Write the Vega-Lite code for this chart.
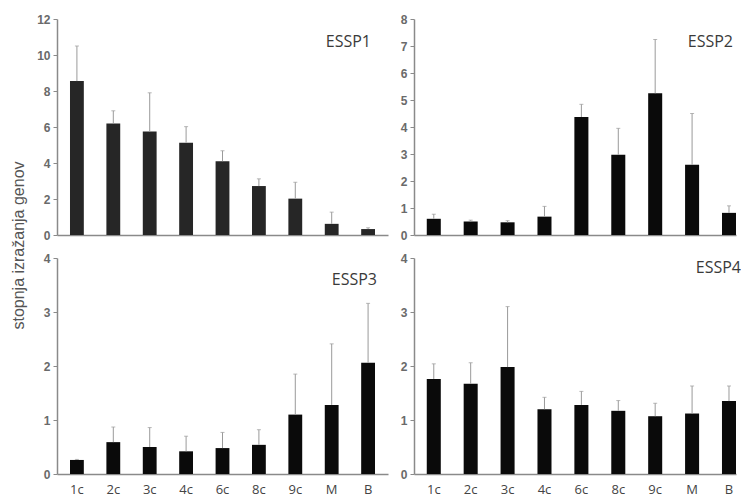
{
  "$schema": "https://vega.github.io/schema/vega-lite/v6.json",
  "padding": {"left": 10, "top": 13, "right": 0, "bottom": 0},
  "background": "white",
  "datasets": {
    "d": [
      {"gene": "ESSP1", "cond": "1c", "value": 8.55, "err": 10.5},
      {"gene": "ESSP1", "cond": "2c", "value": 6.2, "err": 6.9},
      {"gene": "ESSP1", "cond": "3c", "value": 5.75, "err": 7.9},
      {"gene": "ESSP1", "cond": "4c", "value": 5.13, "err": 6.02},
      {"gene": "ESSP1", "cond": "6c", "value": 4.1, "err": 4.68},
      {"gene": "ESSP1", "cond": "8c", "value": 2.72, "err": 3.12},
      {"gene": "ESSP1", "cond": "9c", "value": 2.02, "err": 2.93},
      {"gene": "ESSP1", "cond": "M", "value": 0.62, "err": 1.27},
      {"gene": "ESSP1", "cond": "B", "value": 0.33, "err": 0.4},
      {"gene": "ESSP2", "cond": "1c", "value": 0.6, "err": 0.77},
      {"gene": "ESSP2", "cond": "2c", "value": 0.5, "err": 0.55},
      {"gene": "ESSP2", "cond": "3c", "value": 0.47, "err": 0.53},
      {"gene": "ESSP2", "cond": "4c", "value": 0.68, "err": 1.06},
      {"gene": "ESSP2", "cond": "6c", "value": 4.37, "err": 4.84},
      {"gene": "ESSP2", "cond": "8c", "value": 2.97, "err": 3.95},
      {"gene": "ESSP2", "cond": "9c", "value": 5.25, "err": 7.24},
      {"gene": "ESSP2", "cond": "M", "value": 2.6, "err": 4.5},
      {"gene": "ESSP2", "cond": "B", "value": 0.82, "err": 1.08},
      {"gene": "ESSP3", "cond": "1c", "value": 0.26, "err": 0.27},
      {"gene": "ESSP3", "cond": "2c", "value": 0.59, "err": 0.87},
      {"gene": "ESSP3", "cond": "3c", "value": 0.5, "err": 0.86},
      {"gene": "ESSP3", "cond": "4c", "value": 0.42, "err": 0.7},
      {"gene": "ESSP3", "cond": "6c", "value": 0.48, "err": 0.77},
      {"gene": "ESSP3", "cond": "8c", "value": 0.54, "err": 0.82},
      {"gene": "ESSP3", "cond": "9c", "value": 1.1, "err": 1.85},
      {"gene": "ESSP3", "cond": "M", "value": 1.28, "err": 2.41},
      {"gene": "ESSP3", "cond": "B", "value": 2.06, "err": 3.16},
      {"gene": "ESSP4", "cond": "1c", "value": 1.76, "err": 2.04},
      {"gene": "ESSP4", "cond": "2c", "value": 1.67, "err": 2.06},
      {"gene": "ESSP4", "cond": "3c", "value": 1.98, "err": 3.1},
      {"gene": "ESSP4", "cond": "4c", "value": 1.2, "err": 1.42},
      {"gene": "ESSP4", "cond": "6c", "value": 1.28, "err": 1.53},
      {"gene": "ESSP4", "cond": "8c", "value": 1.17, "err": 1.36},
      {"gene": "ESSP4", "cond": "9c", "value": 1.07, "err": 1.31},
      {"gene": "ESSP4", "cond": "M", "value": 1.12, "err": 1.63},
      {"gene": "ESSP4", "cond": "B", "value": 1.35, "err": 1.63}
    ]
  },
  "columns": 2,
  "bounds": "flush",
  "align": "each",
  "spacing": {"row": 23, "column": 26},
  "concat": [
    {
      "width": 331, "height": 216,
      "data": {"name": "d"},
      "transform": [{"filter": "datum.gene === 'ESSP1'"}],
      "title": {"text": "ESSP1", "anchor": "end", "offset": -37, "dx": -17, "frame": "group"},
      "encoding": {
        "x": {"field": "cond", "type": "nominal", "sort": ["1c","2c","3c","4c","6c","8c","9c","M","B"],
              "scale": {"paddingInner": 0.62, "paddingOuter": 0.357},
              "axis": {"labels": false, "ticks": false, "title": null}},
        "y": {"field": "value", "type": "quantitative", "scale": {"domain": [0, 12]},
              "axis": {"values": [0,2,4,6,8,10,12], "format": "d", "labelOverlap": false,
                       "title": "stopnja izražanja genov", "titleY": 226, "titleAlign": "center", "titlePadding": 10}}
      },
      "layer": [
        {"mark": {"type": "bar", "color": "#262626"}},
        {"mark": {"type": "rule", "color": "#9a9a9a", "strokeWidth": 1},
         "encoding": {"y2": {"field": "err"}}},
        {"mark": {"type": "tick", "color": "#9a9a9a", "size": 4, "thickness": 1},
         "encoding": {"y": {"field": "err", "type": "quantitative", "scale": {"domain": [0, 12]},
              "axis": {"values": [0,2,4,6,8,10,12], "format": "d", "labelOverlap": false,
                       "title": "stopnja izražanja genov", "titleY": 226, "titleAlign": "center", "titlePadding": 10}}}}
      ]
    },
    {
      "width": 322, "height": 216,
      "data": {"name": "d"},
      "transform": [{"filter": "datum.gene === 'ESSP2'"}],
      "title": {"text": "ESSP2", "anchor": "end", "offset": -37, "dx": -3, "frame": "group"},
      "encoding": {
        "x": {"field": "cond", "type": "nominal", "sort": ["1c","2c","3c","4c","6c","8c","9c","M","B"],
              "scale": {"paddingInner": 0.62, "paddingOuter": 0.173, "align": 1},
              "axis": {"labels": false, "ticks": false, "title": null}},
        "y": {"field": "value", "type": "quantitative", "scale": {"domain": [0, 8]},
              "axis": {"values": [0,1,2,3,4,5,6,7,8], "format": "d", "labelOverlap": false, "title": null}}
      },
      "layer": [
        {"mark": {"type": "bar", "color": "#0a0a0a"}},
        {"mark": {"type": "rule", "color": "#9a9a9a", "strokeWidth": 1},
         "encoding": {"y2": {"field": "err"}}},
        {"mark": {"type": "tick", "color": "#9a9a9a", "size": 4, "thickness": 1},
         "encoding": {"y": {"field": "err", "type": "quantitative", "scale": {"domain": [0, 8]},
              "axis": {"values": [0,1,2,3,4,5,6,7,8], "format": "d", "labelOverlap": false, "title": null}}}}
      ]
    },
    {
      "width": 331, "height": 216,
      "data": {"name": "d"},
      "transform": [{"filter": "datum.gene === 'ESSP3'"}],
      "title": {"text": "ESSP3", "anchor": "end", "offset": -36, "dx": -11, "frame": "group"},
      "encoding": {
        "x": {"field": "cond", "type": "nominal", "sort": ["1c","2c","3c","4c","6c","8c","9c","M","B"],
              "scale": {"paddingInner": 0.62, "paddingOuter": 0.357},
              "axis": {"labels": true, "ticks": false, "title": null, "labelAngle": 0}},
        "y": {"field": "value", "type": "quantitative", "scale": {"domain": [0, 4]},
              "axis": {"values": [0,1,2,3,4], "format": "d", "labelOverlap": false, "title": null}}
      },
      "layer": [
        {"mark": {"type": "bar", "color": "#0a0a0a"}},
        {"mark": {"type": "rule", "color": "#9a9a9a", "strokeWidth": 1},
         "encoding": {"y2": {"field": "err"}}},
        {"mark": {"type": "tick", "color": "#9a9a9a", "size": 4, "thickness": 1},
         "encoding": {"y": {"field": "err", "type": "quantitative", "scale": {"domain": [0, 4]},
              "axis": {"values": [0,1,2,3,4], "format": "d", "labelOverlap": false, "title": null}}}}
      ]
    },
    {
      "width": 322, "height": 216,
      "data": {"name": "d"},
      "transform": [{"filter": "datum.gene === 'ESSP4'"}],
      "title": {"text": "ESSP4", "anchor": "end", "offset": -24, "dx": 5, "frame": "group"},
      "encoding": {
        "x": {"field": "cond", "type": "nominal", "sort": ["1c","2c","3c","4c","6c","8c","9c","M","B"],
              "scale": {"paddingInner": 0.62, "paddingOuter": 0.173, "align": 1},
              "axis": {"labels": true, "ticks": false, "title": null, "labelAngle": 0}},
        "y": {"field": "value", "type": "quantitative", "scale": {"domain": [0, 4]},
              "axis": {"values": [0,1,2,3,4], "format": "d", "labelOverlap": false, "title": null}}
      },
      "layer": [
        {"mark": {"type": "bar", "color": "#0a0a0a"}},
        {"mark": {"type": "rule", "color": "#9a9a9a", "strokeWidth": 1},
         "encoding": {"y2": {"field": "err"}}},
        {"mark": {"type": "tick", "color": "#9a9a9a", "size": 4, "thickness": 1},
         "encoding": {"y": {"field": "err", "type": "quantitative", "scale": {"domain": [0, 4]},
              "axis": {"values": [0,1,2,3,4], "format": "d", "labelOverlap": false, "title": null}}}}
      ]
    }
  ],
  "config": {
    "view": {"stroke": null},
    "title": {"font": "Open Sans", "fontSize": 16, "fontWeight": "normal", "color": "#3a3a3a"},
    "axis": {"grid": false, "domainColor": "#8a8a8a", "domainWidth": 1.5, "tickColor": "#8a8a8a", "tickSize": 4,
             "labelFont": "Liberation Sans", "labelFontWeight": "bold", "labelColor": "#6a6a6a", "labelFontSize": 12,
             "labelPadding": 3,
             "titleFont": "Liberation Sans", "titleFontWeight": "normal", "titleColor": "#555555", "titleFontSize": 16},
    "axisX": {"labelFont": "Open Sans", "labelFontWeight": "normal", "labelColor": "#444444", "labelFontSize": 13, "labelPadding": 9}
  }
}
